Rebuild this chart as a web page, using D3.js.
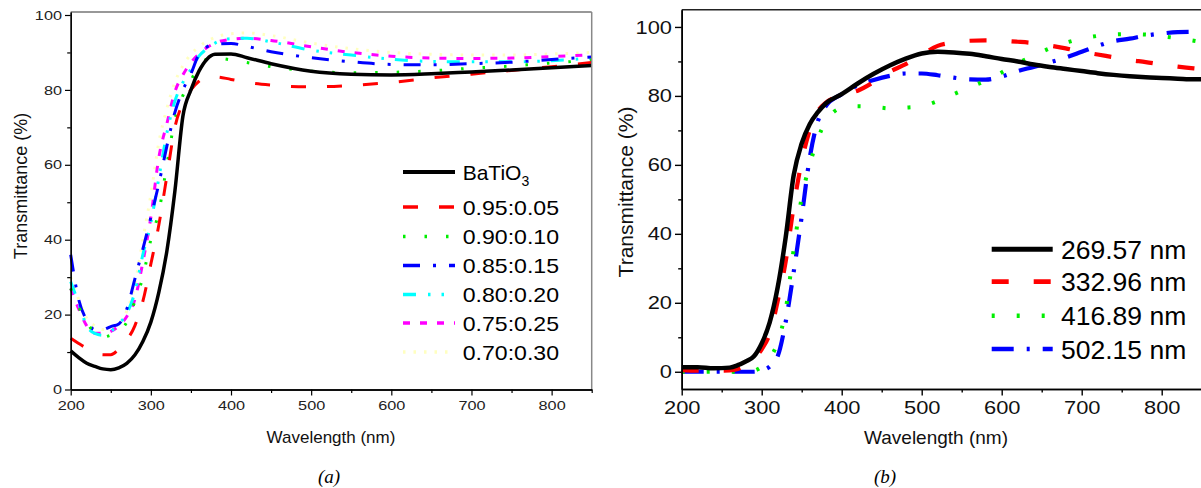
<!DOCTYPE html>
<html><head><meta charset="utf-8">
<script src="https://cdn.jsdelivr.net/npm/d3@7"></script>
<style>body{margin:0;background:#fff} svg{display:block}</style>
</head><body>
<svg id="c" width="1201" height="488"></svg>
<script>
// ---------- Panel (a) data ----------
const wavelengthA = [200,210,220,230,240,250,260,270,280,290,300,310,320,330,340,350,360,370,380,400,420,450,500,550,600,650,700,750,800,850];
const tBaTiO3 = [10.3,8.5,7.0,6.2,5.5,5.3,5.8,7.0,9.2,12.8,18,26,37,53,73,80,85,88.2,89.5,89.6,88.6,87,85,84.2,84,84.3,84.8,85.3,85.9,86.5];
const t095 = [13.7,12.3,11,10,9.3,9.3,10.8,13.2,17,23.5,33.5,44,57,70,76.5,80,82.3,83.3,83.5,82.8,82,81.3,80.8,81.2,82,83.2,84.2,85.2,86.2,87.3];
const t090 = [27,22,18,15,14,14.5,15.5,18,23.5,30,40,47.5,60,72,78.5,82.5,86.5,88.2,88.5,88,87.3,86.2,85,84.6,84.7,85.1,85.8,86.4,87.2,88];
const t085 = [36,24,18.5,16,16,16.8,17.5,21.5,29.5,37.5,46,55,65,74,80,84.3,89.5,91.5,92.2,92.4,91.6,90.2,88.6,87.5,86.8,86.7,87,87.4,88.1,88.8];
const t080 = [28.8,23,17,15,14.5,15.5,17.5,20.3,26,36,44.5,56.5,68.5,77,82,85.5,89,91,92.5,93.7,93.8,92.8,90.6,89.3,88.2,87.6,87.5,87.5,87.8,88.5];
const t075 = [27,21.5,17,15,15,15.5,17,19.5,24,34,46,62,71,79.5,84,87.3,89.6,91.3,92.5,93.5,93.8,93.2,91.5,90,89,88.5,88.4,88.5,88.9,89.4];
const t070 = [30,24,19,17,16,16.5,17.5,21,28,40,52,66,75,82,86.5,89.5,91.5,93,94,95,95.2,94.5,92.5,91,90,89.5,89.3,89.3,89.6,90];
const labelsA = ["BaTiO3","0.95:0.05","0.90:0.10","0.85:0.15","0.80:0.20","0.75:0.25","0.70:0.30"];

// ---------- Panel (b) data ----------
const wavelengthB = [200,220,240,260,270,280,290,300,310,320,330,340,350,360,370,380,400,420,440,460,480,500,520,540,560,580,600,620,640,660,680,700,720,740,760,780,800,820,840,850];
const t26957 = [1.3,1.3,1.0,1.2,1.9,3.0,4.4,8.2,14.3,24.5,39,57,66.2,71.8,75.2,77.8,80.5,83.6,86.4,88.8,90.8,92.3,92.8,92.6,92.2,91.5,90.7,90,89.1,88.4,87.8,87.2,86.6,86.1,85.7,85.4,85.2,85,84.8,84.8];
const t33296 = [0.5,0.3,0.3,0.4,0.8,1.8,3.6,6.5,11,20.5,32,48,61,70,75.5,78,80.3,81.5,84,87,89.2,92,94.5,95.5,96,96.1,96,95.7,95.3,94.6,93.8,92.8,92,91.2,90.4,89.8,89.1,88.5,88,87.8];
const t41689 = [0,0,0,0,0,0,0.3,1.5,4,8.5,18,35.5,50.5,60,67.5,72.5,76.5,77,76.8,76.4,76.6,77,78.5,80.5,82.5,84.4,86.8,89.5,91.6,93.8,95.4,96.6,97.4,97.8,97.9,97.8,97.3,96.7,96,95.6];
const t50215 = [0,0,0,0,0,0,0,0.4,1.5,4.5,14.5,29,45,62,72.5,77,80.5,83,84.6,85.8,86.5,86.5,86,85.3,84.8,84.7,85.6,87.2,88.4,89.7,91.1,92.8,94.5,95.9,96.6,97.5,98.1,98.5,98.6,98.6];
const labelsB = ["269.57 nm","332.96 nm","416.89 nm","502.15 nm"];

// ---------- ticks ----------
const xTicks = [200,300,400,500,600,700,800];
const xMinor = [250,350,450,550,650,750,850];
const yTicksA = [0,20,40,60,80,100];
const yMinorA = [10,30,50,70,90];
const yTicksB = [0,20,40,60,80,100];
const yMinorB = [10,30,50,70,90];

const svg = d3.select("#c");
const FONT = "Liberation Sans, Arial, sans-serif";

function stretch(sel, f){
  sel.each(function(){
    const L = this.getComputedTextLength();
    if (f !== 1) d3.select(this).attr("textLength", L*f).attr("lengthAdjust","spacingAndGlyphs");
  });
}

// ============ Panel A ============
const xA = d3.scaleLinear().domain([200,850]).range([70.7,591.7]);
const yA = d3.scaleLinear().domain([0,100.8]).range([389.5,12]);
const gA = svg.append("g");

const seriesA = [tBaTiO3,t095,t090,t085,t080,t075,t070];
const colorsA = ["#000","#ff0000","#00ee00","#0000ff","#00ffff","#ff00ff","#ffffc0"];
const dashA = [null,"15,21","2.5,19","17,13,3,13","13,12,2.5,11,2.5,11","7,10","2.5,8"];
const widthA = [3.5,3,3,3,3,3,3];

const lineA = d3.line().x((d,i)=>xA(wavelengthA[i])).y(d=>yA(d)).curve(d3.curveMonotoneX);
const drawOrderA = [6,5,4,3,2,1,0];
drawOrderA.forEach(k=>{
  gA.append("path").attr("d", lineA(seriesA[k])).attr("fill","none")
    .attr("stroke", colorsA[k]).attr("stroke-width", widthA[k])
    .attr("stroke-dasharray", dashA[k]).attr("stroke-linecap","butt");
});

// frame
gA.append("line").attr("x1",xA(200)).attr("x2",xA(850)).attr("y1",yA(100.8)).attr("y2",yA(100.8)).attr("stroke","#333").attr("stroke-width",1.2);
gA.append("line").attr("x1",xA(850)).attr("x2",xA(850)).attr("y1",yA(100.8)).attr("y2",yA(0)).attr("stroke","#888").attr("stroke-width",1.5);

// axes
gA.append("g").attr("transform",`translate(0,${yA(0)})`)
  .call(d3.axisBottom(xA).tickValues(xTicks).tickSize(6).tickPadding(5).tickSizeOuter(0));
gA.append("g").attr("transform",`translate(0,${yA(0)})`)
  .call(d3.axisBottom(xA).tickValues(xMinor).tickSize(3.5).tickFormat("").tickSizeOuter(0));
gA.append("g").attr("transform",`translate(${xA(200)},0)`)
  .call(d3.axisLeft(yA).tickValues(yTicksA).tickSize(5.7).tickPadding(3).tickSizeOuter(0));
gA.append("g").attr("transform",`translate(${xA(200)},0)`)
  .call(d3.axisLeft(yA).tickValues(yMinorA).tickSize(3.5).tickFormat("").tickSizeOuter(0));
gA.selectAll(".domain").attr("stroke","#000").attr("stroke-width",1.3);
gA.selectAll(".tick line").attr("stroke","#000").attr("stroke-width",1.2);
gA.selectAll(".tick text").attr("font-family",FONT).attr("font-size",13).attr("fill","#222");
stretch(gA.selectAll(".tick text"),1.25);

// titles
gA.append("text").attr("x",331).attr("y",443).attr("text-anchor","middle")
  .attr("font-family",FONT).attr("font-size",17).attr("fill","#111").text("Wavelength (nm)");
gA.append("text").attr("transform","translate(27,186) rotate(-90)").attr("text-anchor","middle")
  .attr("font-family",FONT).attr("font-size",18).attr("fill","#111").text("Transmittance (%)");

// legend A
const legYA = [172,207,236.5,265.5,294.5,323,352];
labelsA.forEach((lab,k)=>{
  const y = legYA[k];
  gA.append("line").attr("x1",403).attr("x2",455).attr("y1",y).attr("y2",y)
    .attr("stroke",colorsA[k]).attr("stroke-width",widthA[k]+0.5).attr("stroke-dasharray",dashA[k]);
  const t = gA.append("text").attr("x",462.7).attr("y",y+7.8)
    .attr("font-family",FONT).attr("font-size",21).attr("fill","#000");
  if (lab === "BaTiO3"){
    t.append("tspan").text("BaTiO");
    t.append("tspan").attr("font-size",14).attr("dy",6).text("3");
  } else { t.text(lab); stretch(t,1.1); }
});

// ============ Panel B ============
const xB = d3.scaleLinear().domain([200,850]).range([681.7,1201.7]);
const yB = d3.scaleLinear().domain([-5,105]).range([389,9.7]);
const gB = svg.append("g");
const seriesB = [t26957,t33296,t41689,t50215];
const colorsB = ["#000","#ff0000","#00ee00","#0000ff"];
const dashB = [null,"17,25","3,22","22,13,3,13"];
const widthB = [4.5,4.2,4,4.2];
const lineB = d3.line().x((d,i)=>xB(wavelengthB[i])).y(d=>yB(d)).curve(d3.curveMonotoneX);
[3,2,1,0].forEach(k=>{
  gB.append("path").attr("d", lineB(seriesB[k])).attr("fill","none")
    .attr("stroke", colorsB[k]).attr("stroke-width", widthB[k])
    .attr("stroke-dasharray", dashB[k]).attr("stroke-linecap","butt");
});
gB.append("line").attr("x1",xB(200)).attr("x2",1201).attr("y1",yB(105)).attr("y2",yB(105)).attr("stroke","#222").attr("stroke-width",1.4);

gB.append("g").attr("transform",`translate(0,${yB(-5)})`)
  .call(d3.axisBottom(xB).tickValues(xTicks).tickSize(6.5).tickPadding(5).tickSizeOuter(0));
gB.append("g").attr("transform",`translate(0,${yB(-5)})`)
  .call(d3.axisBottom(xB).tickValues(xMinor).tickSize(3.5).tickFormat("").tickSizeOuter(0));
gB.append("g").attr("transform",`translate(${xB(200)},0)`)
  .call(d3.axisLeft(yB).tickValues(yTicksB).tickSize(6.7).tickPadding(3).tickSizeOuter(0));
gB.append("g").attr("transform",`translate(${xB(200)},0)`)
  .call(d3.axisLeft(yB).tickValues(yMinorB).tickSize(3.5).tickFormat("").tickSizeOuter(0));
gB.selectAll(".domain").attr("stroke","#000").attr("stroke-width",1.6);
gB.selectAll(".tick line").attr("stroke","#000").attr("stroke-width",1.4);
gB.selectAll(".tick text").attr("font-family",FONT).attr("font-size",19).attr("fill","#111");
stretch(gB.selectAll(".tick text"),1.15);

gB.append("text").attr("x",936).attr("y",444).attr("text-anchor","middle")
  .attr("font-family",FONT).attr("font-size",19).attr("fill","#111").text("Wavelength (nm)");
gB.append("text").attr("transform","translate(633,192) rotate(-90)").attr("text-anchor","middle")
  .attr("font-family",FONT).attr("font-size",21).attr("fill","#111").text("Transmittance (%)");

const legYB = [249.3,281.7,315.7,349];
labelsB.forEach((lab,k)=>{
  const y = legYB[k];
  gB.append("line").attr("x1",991.7).attr("x2",1052.7).attr("y1",y).attr("y2",y)
    .attr("stroke",colorsB[k]).attr("stroke-width",widthB[k]+0.5).attr("stroke-dasharray",dashB[k]);
  gB.append("text").attr("x",1061).attr("y",y+9.5)
    .attr("font-family",FONT).attr("font-size",26.5).attr("fill","#000").text(lab);
});

// captions
svg.append("text").attr("x",329).attr("y",483).attr("text-anchor","middle")
  .attr("font-family","Liberation Serif, Times New Roman, serif").attr("font-style","italic")
  .attr("font-size",19).text("(a)");
svg.append("text").attr("x",885).attr("y",483).attr("text-anchor","middle")
  .attr("font-family","Liberation Serif, Times New Roman, serif").attr("font-style","italic")
  .attr("font-size",19).text("(b)");
</script>
</body></html>
